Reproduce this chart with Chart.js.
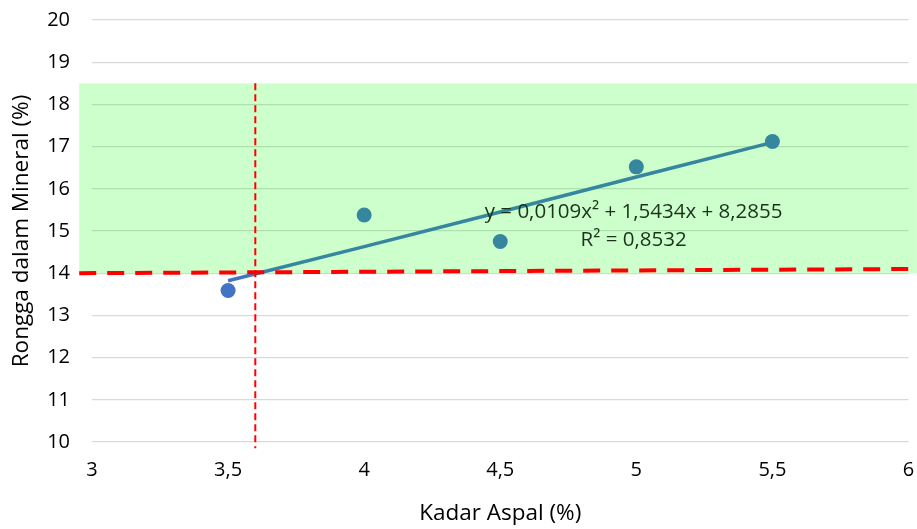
<!DOCTYPE html>
<html>
<head>
<meta charset="utf-8">
<script src="https://cdn.jsdelivr.net/npm/chart.js@4"></script>
<style>
  html, body { margin: 0; padding: 0; background: #fff; }
  #wrap { width: 917px; height: 529px; }
</style>
</head>
<body>
<div id="wrap"><canvas id="chart" width="917" height="529"></canvas></div>
<script>
// data points (Kadar Aspal vs Rongga dalam Mineral)
const kadarAspal = [3.5, 4, 4.5, 5, 5.5];
const vma = [13.59, 15.38, 14.75, 16.52, 17.12];

// trendline values
const trendX = [3.5, 4, 4.5, 5, 5.5];
const trendY = [13.82, 14.63, 15.45, 16.28, 17.10];

// batas (reference lines) and green zone
const batasX = [2.953, 6.031];
const batasY = [14.0, 14.1];
const kadarOptX = [3.6, 3.6];
const kadarOptY = [18.5, 9.85];
const zoneX = [2.953, 6.031];
const zoneY = [14, 18.5];

const equationText = ['y = 0,0109x\u00b2 + 1,5434x + 8,2855', 'R\u00b2 = 0,8532'];
const equationPos = [4.99, 15.45, 14.79];

const FONT = '"Open Sans", "Noto Sans", sans-serif';
const BLUE = '#4472C4';
const TEAL = '#35869E';

// hijau di belakang data
const zonePlugin = {
    id: 'zone',
    beforeDatasetsDraw(chart) {
        const { ctx, scales: { x, y } } = chart;
        const x0 = x.getPixelForValue(zoneX[0]);
        const x1 = x.getPixelForValue(zoneX[1]);
        const y0 = y.getPixelForValue(zoneY[1]);
        const y1 = y.getPixelForValue(zoneY[0]);
        ctx.save();
        ctx.fillStyle = 'rgba(0, 255, 0, 0.2)';
        ctx.fillRect(x0, y0, x1 - x0, y1 - y0);
        ctx.restore();
    },
    afterDatasetsDraw(chart) {
        const { ctx, scales: { x, y } } = chart;
        ctx.save();
        ctx.fillStyle = '#1a331a';
        ctx.font = '20.5px ' + FONT;
        ctx.textAlign = 'center';
        ctx.textBaseline = 'middle';
        const cx = x.getPixelForValue(equationPos[0]);
        ctx.fillText(equationText[0], cx, y.getPixelForValue(equationPos[1]));
        ctx.fillText(equationText[1], cx, y.getPixelForValue(equationPos[2]));
        ctx.restore();
    }
};

// buang padding otomatis dari label tick
function noTickPadding(scale) {
    scale.paddingTop = 0;
    scale.paddingBottom = 0;
    scale.paddingLeft = 0;
    scale.paddingRight = 0;
}

const ctx = document.getElementById('chart').getContext('2d');
new Chart(ctx, {
    type: 'scatter',
    data: {
        datasets: [
            {
                label: 'batas VMA',
                type: 'line',
                data: batasX.map((v, i) => ({ x: v, y: batasY[i] })),
                borderColor: '#ff0000',
                borderWidth: 4,
                borderDash: [17, 11],
                pointRadius: 0,
                clip: false,
                order: 0
            },
            {
                label: 'kadar optimum',
                type: 'line',
                data: kadarOptX.map((v, i) => ({ x: v, y: kadarOptY[i] })),
                borderColor: '#ff0000',
                borderWidth: 2,
                borderDash: [7, 4],
                pointRadius: 0,
                clip: false,
                order: 0
            },
            {
                label: 'VMA',
                data: kadarAspal.map((v, i) => ({ x: v, y: vma[i] })),
                pointRadius: 7.5,
                pointBackgroundColor: [BLUE, TEAL, TEAL, TEAL, TEAL],
                pointBorderWidth: 0,
                order: 1
            },
            {
                label: 'trend',
                type: 'line',
                data: trendX.map((v, i) => ({ x: v, y: trendY[i] })),
                borderWidth: 3.5,
                pointRadius: 0,
                borderColor: function(context) {
                    const chart = context.chart;
                    if (!chart.chartArea) return TEAL;
                    const xs = chart.scales.x;
                    const g = chart.ctx.createLinearGradient(xs.getPixelForValue(3.5), 0, xs.getPixelForValue(3.72), 0);
                    g.addColorStop(0, BLUE);
                    g.addColorStop(1, TEAL);
                    return g;
                },
                order: 2
            }
        ]
    },
    options: {
        responsive: false,
        animation: false,
        layout: { padding: { top: 20, right: 8.5, left: 0, bottom: 0 } },
        plugins: {
            legend: { display: false },
            tooltip: { enabled: false }
        },
        scales: {
            x: {
                type: 'linear',
                min: 3,
                max: 6,
                ticks: {
                    stepSize: 0.5,
                    color: '#000',
                    font: { family: FONT, size: 20 },
                    padding: 16,
                    callback: v => String(v).replace('.', ',')
                },
                grid: { display: false, drawTicks: false },
                border: { display: false },
                title: {
                    display: true,
                    text: 'Kadar Aspal (%)',
                    color: '#000',
                    font: { family: FONT, size: 22.5 },
                    padding: { top: 0, bottom: 2 }
                },
                afterFit(scale) { scale.height = 87; noTickPadding(scale); }
            },
            y: {
                type: 'linear',
                min: 10,
                max: 20,
                ticks: {
                    stepSize: 1,
                    color: '#000',
                    font: { family: FONT, size: 20 },
                    padding: 22
                },
                grid: { color: '#d9d9d9', lineWidth: 1.3, drawTicks: false },
                border: { display: false },
                title: {
                    display: true,
                    text: 'Rongga dalam Mineral (%)',
                    color: '#000',
                    font: { family: FONT, size: 22.5 },
                    padding: { top: 8, bottom: 0 }
                },
                afterFit(scale) { scale.width = 92; noTickPadding(scale); }
            }
        }
    },
    plugins: [zonePlugin]
});
</script>
</body>
</html>
